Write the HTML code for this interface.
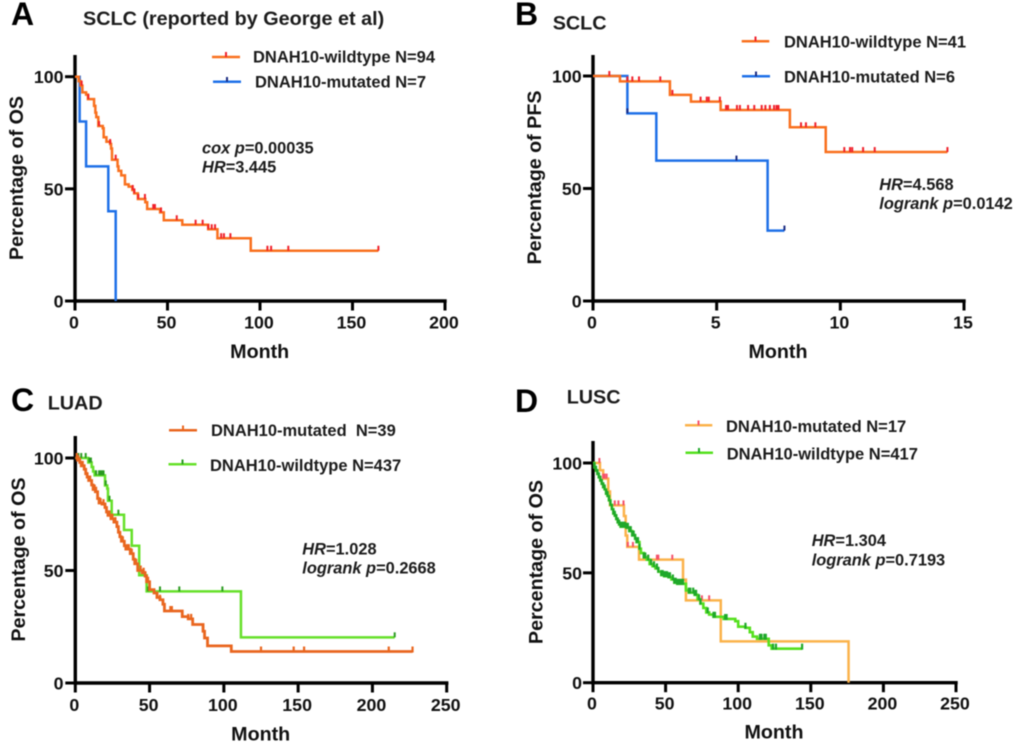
<!DOCTYPE html>
<html>
<head>
<meta charset="utf-8">
<title>DNAH10 survival curves</title>
<style>
html,body{margin:0;padding:0;background:#fff;width:1020px;height:744px;overflow:hidden}
svg{display:block;filter:blur(0.45px)}
text{font-family:"Liberation Sans",sans-serif;font-weight:bold;fill:#111}
.letter{font-size:32px;fill:#000}
.title{font-size:19.8px;fill:#1c1c1c}
.tick{font-size:17.8px}
.axt{font-size:19.7px}
.leg{font-size:16.5px;fill:#1c1c1c}
.stat{font-size:16.4px;fill:#1c1c1c}
.stat tspan.i{font-style:italic}
</style>
</head>
<body>
<svg id="fig" width="1020" height="744" viewBox="0 0 1020 744" xmlns="http://www.w3.org/2000/svg">
  <rect width="1020" height="744" fill="#fff"/>

  <text class="letter" x="11" y="25">A</text>
  <text class="title" x="83" y="25">SCLC (reported by George et al)</text>
  <text class="letter" x="515" y="25">B</text>
  <text class="title" x="552.7" y="29.3">SCLC</text>
  <text class="letter" x="11" y="411">C</text>
  <text class="title" x="47.7" y="409.3">LUAD</text>
  <text class="letter" x="515" y="412">D</text>
  <text class="title" x="566.7" y="403.7">LUSC</text>

  <g>
    <path d="M212 57H240" stroke="#f9701e" stroke-width="2.5" fill="none"/>
    <path d="M226 52V57" stroke="#f0202a" stroke-width="2"/>
    <text class="leg" x="253" y="62.7">DNAH10-wildtype N=94</text>
    <path d="M213 81.7H241" stroke="#1e70e8" stroke-width="2.5" fill="none"/>
    <path d="M227 77V81.7" stroke="#1a2a80" stroke-width="2"/>
    <text class="leg" x="255" y="87.7">DNAH10-mutated N=7</text>
  </g>
  <g>
    <path d="M741.7 41.3H769.3" stroke="#f9701e" stroke-width="2.5" fill="none"/>
    <path d="M755.5 36.5V41.3" stroke="#f0202a" stroke-width="2"/>
    <text class="leg" x="784" y="47.3">DNAH10-wildtype N=41</text>
    <path d="M742 76.3H770" stroke="#1e70e8" stroke-width="2.5" fill="none"/>
    <path d="M756 71.5V76.3" stroke="#1a2a80" stroke-width="2"/>
    <text class="leg" x="784" y="82.7">DNAH10-mutated N=6</text>
  </g>
  <g>
    <path d="M169 430.3H197" stroke="#e9661f" stroke-width="2.5" fill="none"/>
    <path d="M183 425.5V430.3" stroke="#e9661f" stroke-width="2"/>
    <text class="leg" x="211" y="436" xml:space="preserve">DNAH10-mutated&#160; N=39</text>
    <path d="M168.5 464.3H196.5" stroke="#66e02a" stroke-width="2.5" fill="none"/>
    <path d="M182.5 459.5V464.3" stroke="#2a9a20" stroke-width="2"/>
    <text class="leg" x="210" y="471">DNAH10-wildtype N=437</text>
  </g>
  <g>
    <path d="M685 425.3H712.3" stroke="#fbb24a" stroke-width="2.5" fill="none"/>
    <path d="M698.5 420.5V425.3" stroke="#f5506a" stroke-width="2"/>
    <text class="leg" x="726" y="432">DNAH10-mutated N=17</text>
    <path d="M685.5 452.7H713" stroke="#55e01e" stroke-width="2.5" fill="none"/>
    <path d="M699 448V452.7" stroke="#1fa82a" stroke-width="2"/>
    <text class="leg" x="726.7" y="459.7">DNAH10-wildtype N=417</text>
  </g>

  <text class="stat" x="202" y="153.5"><tspan class="i">cox p</tspan>=0.00035</text>
  <text class="stat" x="202" y="172.5"><tspan class="i">HR</tspan>=3.445</text>
  <text class="stat" x="879.3" y="190"><tspan class="i">HR</tspan>=4.568</text>
  <text class="stat" x="879.3" y="209"><tspan class="i">logrank p</tspan>=0.0142</text>
  <text class="stat" x="302.3" y="554.3"><tspan class="i">HR</tspan>=1.028</text>
  <text class="stat" x="302.3" y="573.7"><tspan class="i">logrank p</tspan>=0.2668</text>
  <text class="stat" x="811.7" y="546"><tspan class="i">HR</tspan>=1.304</text>
  <text class="stat" x="811.7" y="565.3"><tspan class="i">logrank p</tspan>=0.7193</text>
</svg>

<script>
// ---- Panel A data ----
const aXTicks = [0, 50, 100, 150, 200];
const aYTicks = [0, 50, 100];
const aWildMonths = [0, 2, 3, 4, 6, 7, 10.3, 11, 11.5, 12.6, 15, 15.5, 17, 19, 19.5, 20, 23, 23.5, 25, 27, 29, 31, 32, 34, 38, 39, 46, 48, 58, 72, 77, 95];
const aWildSurv = [100, 98, 96, 93, 92, 90, 87, 84, 82, 78, 77, 73, 71, 70, 68, 63, 60, 58, 56, 52, 51, 49.5, 48, 45.5, 44, 41, 39.5, 36, 34, 32, 28, 22.4];
const aWildEnd = 164;
const aWildCensor = [3.6, 7.2, 13, 19, 22, 31.2, 32, 34.2, 37.8, 42.3, 43.2, 46.5, 55, 65.2, 69, 72, 73.9, 75.7, 79, 80.5, 84, 104, 106, 115.3, 164];
const aMutMonths = [0, 2.5, 6, 18, 22];
const aMutSurv = [100, 80, 60, 40, 0];
const aMutEnd = 22;
const aMutCensor = [];

// ---- Panel B data ----
const bXTicks = [0, 5, 10, 15];
const bYTicks = [0, 50, 100];
const bWildMonths = [0, 1.09, 3.11, 3.96, 5.16, 7.96, 9.41];
const bWildSurv = [100, 97.6, 91.6, 88.6, 84.9, 77.2, 66.2];
const bWildEnd = 14.33;
const bWildCensor = [0.66, 1.39, 1.59, 1.86, 2.72, 3.21, 4.35, 4.6, 4.68, 5.13, 5.38, 5.46, 5.82, 5.94, 6.27, 6.52, 6.82, 6.97, 7.15, 7.32, 7.42, 7.5, 8.41, 8.61, 8.99, 10.16, 10.39, 10.48, 10.92, 11.39, 14.33];
const bMutMonths = [0, 1.39, 2.56, 7.06];
const bMutSurv = [100, 83.4, 62.4, 31.3];
const bMutEnd = 7.74;
const bMutCensor = [1.39, 5.8, 7.74];

// ---- Panel C data ----
const cXTicks = [0, 50, 100, 150, 200, 250];
const cYTicks = [0, 50, 100];
const cWildMonths = [0, 8.75, 11, 12, 13, 20, 21.5, 22, 24.5, 32.8, 38, 43, 48, 111.5];
const cWildSurv = [100, 98, 96, 94, 92.3, 87.8, 86.4, 81, 74.8, 68, 61, 47.9, 40.7, 20.3];
const cWildEnd = 215;
const cWildCensor = [2, 4, 7, 9.5, 10.5, 14, 16, 17, 18, 19, 20.5, 23, 29, 49, 57, 70, 99, 215];
const cMutMonths = [0, 1.5, 3, 4, 6, 7, 8, 9, 11, 12, 13.5, 15, 16, 18, 20, 21, 22, 24, 26, 28, 29, 30, 31, 33, 34, 37, 39, 40, 42, 45, 47, 48, 50, 53, 55, 57, 59, 60, 72, 76, 79, 86, 87, 89, 105];
const cMutSurv = [100, 99, 98, 96.5, 95, 93, 91.5, 90, 88, 86, 85, 82, 80, 79.5, 78, 76, 74.5, 73, 71.5, 69.5, 67, 65, 63, 61, 59.5, 57.5, 55, 53, 50, 49, 47.5, 45, 41.5, 40, 38, 37, 35, 32, 29.5, 28.5, 26, 23, 20, 16.5, 14];
const cMutEnd = 227;
const cMutCensor = [1, 2, 3, 4, 5, 6, 7, 8, 9, 10, 12, 13, 14, 15, 17, 19, 20, 22, 23, 24, 25, 27, 28, 30, 32, 33, 35, 36, 38, 39, 41, 44, 46, 47, 48, 49, 55, 57, 59, 64, 65, 72, 76, 78, 86, 125, 147, 154, 211, 227];

// ---- Panel D data ----
const dXTicks = [0, 50, 100, 150, 200, 250];
const dYTicks = [0, 50, 100];
const dMutMonths = [0, 4.8, 7, 10.5, 11.7, 21.3, 22.5, 23.6, 31.7, 62, 64, 88, 176];
const dMutSurv = [100, 96.7, 92.9, 87, 80.7, 75.9, 67, 61.8, 56, 46.9, 37.5, 18.8, 0];
const dMutEnd = 176;
const dMutCensor = [4.4, 7, 8, 9.4, 15, 17.5, 21, 24, 27.5, 38, 44, 45, 54.6, 75, 80];
const dWildMonths = [0, 1, 2, 3, 4, 5, 6, 7, 8, 9, 10, 11, 12, 13, 14, 15, 16, 17, 18, 19, 23, 25, 27, 29, 30, 32, 33, 35, 37, 39, 41, 43, 45, 47, 49, 52, 54, 56, 58, 64, 66, 70, 72, 74, 76, 78, 80, 83, 90, 98, 100, 105, 108, 110, 113, 121, 123];
const dWildSurv = [100, 98, 96.5, 95, 93.5, 92, 90.5, 89, 88, 86, 85, 83, 81, 79, 77, 76, 74.5, 73, 72, 71, 70.5, 69, 67, 65.5, 64, 61, 59, 57, 56, 54, 53, 52, 50.5, 49, 48.5, 48, 47, 45.5, 45, 42, 41, 40, 38, 36, 34, 32, 31, 30, 29, 28, 25.5, 25, 23, 21, 20, 17, 15.5];
const dWildEnd = 144;
const dWildCensor = [1, 2, 3, 4, 5, 6, 7, 8, 9, 10, 11, 12, 13, 14, 15, 16, 17, 18, 19, 20, 21, 22, 23, 24, 25, 26, 27, 28, 29, 30, 31, 32, 35, 36, 38, 40, 42, 44, 45, 47, 48, 49, 50, 51, 52, 53, 55, 56, 57, 58, 59, 60, 61, 62, 66, 67, 69, 70, 71, 73, 74, 79, 83, 84, 91, 92, 105, 115, 116, 118, 119, 124, 126, 144];

const svg = document.getElementById('fig');
const NS = 'http://www.w3.org/2000/svg';

function survivalAt(months, surv, t) {
  let v = surv[0];
  for (let i = 0; i < months.length; i++) {
    if (months[i] <= t) v = surv[i];
  }
  return v;
}

function drawAxes(g, p, xTicks, yTicks, sx, sy) {
  const yLine = document.createElementNS(NS, 'path');
  
  
  yLine.setAttribute('d', 'M' + p.x0 + ' ' + p.yTop + 'V' + (p.y0 + 1.7));
  yLine.setAttribute('stroke', '#000');
  yLine.setAttribute('stroke-width', '3.4');
  g.appendChild(yLine);

  const xLine = document.createElementNS(NS, 'path');
  
  
  xLine.setAttribute('d', 'M' + p.x0 + ' ' + p.y0 + 'H' + (p.x1 + 1.7));
  xLine.setAttribute('stroke', '#000');
  xLine.setAttribute('stroke-width', '3.4');
  g.appendChild(xLine);

  xTicks.forEach(function (v) {
    const t = document.createElementNS(NS, 'path');
    
    
    t.setAttribute('d', 'M' + sx(v) + ' ' + p.y0 + 'V' + (p.y0 + 9.5));
    t.setAttribute('stroke', '#000');
    t.setAttribute('stroke-width', '3');
    g.appendChild(t);

    const l = document.createElementNS(NS, 'text');
    
    
    l.setAttribute('class', 'tick');
    l.setAttribute('x', sx(v) - 1);
    l.setAttribute('y', p.xLabelY);
    l.setAttribute('text-anchor', 'middle');
    l.textContent = v;
    g.appendChild(l);
  });

  yTicks.forEach(function (v) {
    const t = document.createElementNS(NS, 'path');
    
    
    t.setAttribute('d', 'M' + p.x0 + ' ' + sy(v) + 'H' + (p.x0 - 10));
    t.setAttribute('stroke', '#000');
    t.setAttribute('stroke-width', '3');
    g.appendChild(t);

    const l = document.createElementNS(NS, 'text');
    
    
    l.setAttribute('class', 'tick');
    l.setAttribute('x', p.yLabelX);
    l.setAttribute('y', sy(v) + 6.5);
    l.setAttribute('text-anchor', 'end');
    l.textContent = v;
    g.appendChild(l);
  });

  const xt = document.createElementNS(NS, 'text');
  
  
  xt.setAttribute('class', 'axt');
  xt.setAttribute('x', p.xTitleX);
  xt.setAttribute('y', p.xTitleY);
  xt.setAttribute('text-anchor', 'middle');
  xt.textContent = 'Month';
  g.appendChild(xt);

  const yt = document.createElementNS(NS, 'text');
  
  
  yt.setAttribute('class', 'axt');
  yt.setAttribute('text-anchor', 'middle');
  yt.setAttribute('transform', 'translate(' + p.yTitleX + ' ' + p.yTitleY + ') rotate(-90)');
  yt.textContent = p.yTitle;
  g.appendChild(yt);
}

function drawSeries(g, months, surv, end, censor, lineColor, censorColor, name, sx, sy, lineWidth, tickWidth, tickBelow) {
  let d = 'M' + sx(months[0]) + ' ' + sy(surv[0]);
  for (let i = 1; i < months.length; i++) {
    d += 'H' + sx(months[i]) + 'V' + sy(surv[i]);
  }
  d += 'H' + sx(end);

  const line = document.createElementNS(NS, 'path');
  
  
  line.setAttribute('d', d);
  line.setAttribute('fill', 'none');
  line.setAttribute('stroke', lineColor);
  line.setAttribute('stroke-width', lineWidth);
  g.appendChild(line);

  censor.forEach(function (t) {
    const m = document.createElementNS(NS, 'path');
    
    
    const y = sy(survivalAt(months, surv, t));
    m.setAttribute('d', 'M' + sx(t) + ' ' + (y - 5) + 'V' + (y + tickBelow));
    m.setAttribute('stroke', censorColor);
    m.setAttribute('stroke-width', tickWidth);
    g.appendChild(m);
  });
}

function makePanel(name, p, xMax, xTicks, yTicks) {
  const g = document.createElementNS(NS, 'g');
  
  
  svg.appendChild(g);
  const sx = function (v) { return p.x0 + (v / xMax) * (p.x1 - p.x0); };
  const sy = function (v) { return p.y0 - (v / 100) * (p.y0 - p.y100); };
  drawAxes(g, p, xTicks, yTicks, sx, sy);
  return { g: g, sx: sx, sy: sy };
}

const pA = makePanel('panel-a-chart', { x0: 75, x1: 445, y0: 301, y100: 76.7, yTop: 55, xLabelY: 328.3, yLabelX: 63.5, xTitleX: 259.7, xTitleY: 358, yTitleX: 23, yTitleY: 178, yTitle: 'Percentage of OS' }, 200, aXTicks, aYTicks);
drawSeries(pA.g, aMutMonths, aMutSurv, aMutEnd, aMutCensor, '#1e70e8', '#1a2a80', 'a-mutated', pA.sx, pA.sy, 2.5, 2, 0);
drawSeries(pA.g, aWildMonths, aWildSurv, aWildEnd, aWildCensor, '#f9701e', '#f0202a', 'a-wildtype', pA.sx, pA.sy, 2.5, 2, 0);

const pB = makePanel('panel-b-chart', { x0: 593, x1: 964, y0: 301, y100: 76, yTop: 55, xLabelY: 328.3, yLabelX: 581.7, xTitleX: 778, xTitleY: 358, yTitleX: 541, yTitleY: 177.5, yTitle: 'Percentage of PFS' }, 15, bXTicks, bYTicks);
drawSeries(pB.g, bMutMonths, bMutSurv, bMutEnd, bMutCensor, '#1e70e8', '#1a2a80', 'b-mutated', pB.sx, pB.sy, 2.5, 2, 0);
drawSeries(pB.g, bWildMonths, bWildSurv, bWildEnd, bWildCensor, '#f9701e', '#f0202a', 'b-wildtype', pB.sx, pB.sy, 2.5, 2, 0);

const pC = makePanel('panel-c-chart', { x0: 75.3, x1: 446.7, y0: 683, y100: 458, yTop: 436, xLabelY: 711, yLabelX: 63.5, xTitleX: 260.7, xTitleY: 740.3, yTitleX: 25, yTitleY: 559.5, yTitle: 'Percentage of OS' }, 250, cXTicks, cYTicks);
drawSeries(pC.g, cWildMonths, cWildSurv, cWildEnd, cWildCensor, '#66e02a', '#2a9a20', 'c-wildtype', pC.sx, pC.sy, 2.5, 2, 0);
drawSeries(pC.g, cMutMonths, cMutSurv, cMutEnd, cMutCensor, '#e9661f', '#e9661f', 'c-mutated', pC.sx, pC.sy, 2.8, 2.2, 1);

const pD = makePanel('panel-d-chart', { x0: 593, x1: 956, y0: 682.7, y100: 463, yTop: 441, xLabelY: 709.7, yLabelX: 582, xTitleX: 774, xTitleY: 738.7, yTitleX: 542.3, yTitleY: 562, yTitle: 'Percentage of OS' }, 250, dXTicks, dYTicks);
drawSeries(pD.g, dMutMonths, dMutSurv, dMutEnd, dMutCensor, '#fbb24a', '#f5506a', 'd-mutated', pD.sx, pD.sy, 2.5, 2, 0);
drawSeries(pD.g, dWildMonths, dWildSurv, dWildEnd, dWildCensor, '#55e01e', '#1fa82a', 'd-wildtype', pD.sx, pD.sy, 2.6, 2.2, 1);
</script>
</body>
</html>
